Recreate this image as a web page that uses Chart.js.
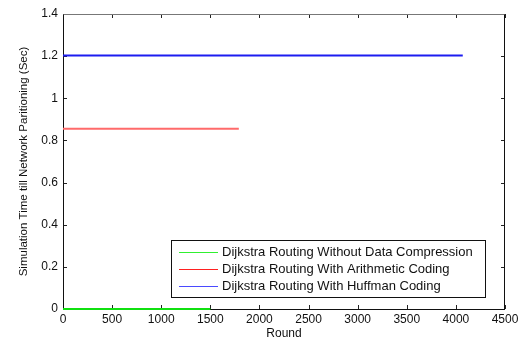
<!DOCTYPE html>
<html><head><meta charset="utf-8">
<script src="https://cdn.jsdelivr.net/npm/chart.js@4"></script>
<style>html,body{margin:0;padding:0;background:#fff;}#wrap{width:524px;height:341px;}</style>
</head><body><div id="wrap"><canvas id="c" width="524" height="341"></canvas></div>
<script>
const seriesLabels = ["Dijkstra Routing Without Data Compression","Dijkstra Routing With Arithmetic Coding","Dijkstra Routing With Huffman Coding"];
const seriesColors = ["#10e010","#ff6a6a","#1c1cf0"];
const legendColors = ["#30f030","#ff2020","#4a4aff"];
const noCompRounds = [0, 1500];
const noCompTime = [0, 0];
const arithRounds = [0, 1790];
const arithTime = [0.855, 0.855];
const huffRounds = [0, 4070];
const huffTime = [1.203, 1.203];
const xTicks = [0,500,1000,1500,2000,2500,3000,3500,4000,4500];
const yTicks = [0,0.2,0.4,0.6,0.8,1,1.2,1.4];
const xTitle = "Round";
const yTitle = "Simulation Time till Network Paritioning (Sec)";

const pts = (xs, ys) => xs.map((x, i) => ({x, y: ys[i]}));
const FONT = "'Liberation Sans', Arial, sans-serif";

const frame = {
  id: 'frame',
  beforeDatasetsDraw(chart) {
    const {ctx, chartArea: a, scales} = chart;
    ctx.save();
    ctx.lineWidth = 1;
    ctx.strokeStyle = '#222';
    const L = 4;
    scales.x.ticks.forEach(t => {
      const px = Math.round(scales.x.getPixelForValue(t.value)) + 0.5;
      ctx.beginPath();
      ctx.moveTo(px, a.bottom); ctx.lineTo(px, a.bottom - L);
      ctx.moveTo(px, a.top); ctx.lineTo(px, a.top + L);
      ctx.stroke();
    });
    scales.y.ticks.forEach(t => {
      const py = Math.round(scales.y.getPixelForValue(t.value)) + 0.5;
      ctx.beginPath();
      ctx.moveTo(a.left, py); ctx.lineTo(a.left + L, py);
      ctx.moveTo(a.right, py); ctx.lineTo(a.right - L, py);
      ctx.stroke();
    });
    const l = Math.round(a.left) + 0.5, r = Math.round(a.right) - 0.5;
    const t = Math.round(a.top) + 0.5, b = Math.round(a.bottom) + 0.5;
    ctx.strokeStyle = '#111';
    ctx.beginPath();
    ctx.moveTo(l, t); ctx.lineTo(l, b); ctx.lineTo(r, b); ctx.lineTo(r, t);
    ctx.stroke();
    ctx.strokeStyle = '#777';
    ctx.beginPath(); ctx.moveTo(l, t); ctx.lineTo(r, t); ctx.stroke();
    ctx.restore();
  },
  afterDatasetsDraw(chart) {
    const {ctx, chartArea: a} = chart;
    ctx.save();
    const bx1 = a.right - 20, bx0 = a.left + 108, by1 = a.bottom - 12, by0 = a.bottom - 69;
    ctx.fillStyle = '#fff';
    ctx.fillRect(bx0, by0, bx1 - bx0, by1 - by0);
    ctx.lineWidth = 1;
    ctx.strokeStyle = '#111';
    ctx.strokeRect(Math.round(bx0) + 0.5, Math.round(by0) + 0.5, Math.round(bx1 - bx0), Math.round(by1 - by0));
    ctx.font = '13px ' + FONT;
    ctx.textBaseline = 'middle';
    ctx.textAlign = 'left';
    chart.data.datasets.forEach((ds, i) => {
      const y = Math.round(by0 + 12 + i * 17) + 0.5;
      ctx.strokeStyle = legendColors[i];
      ctx.lineWidth = 1;
      ctx.beginPath(); ctx.moveTo(bx0 + 8, y); ctx.lineTo(bx0 + 47, y); ctx.stroke();
      ctx.fillStyle = '#111';
      ctx.fillText(ds.label, bx0 + 51, y);
    });
    ctx.restore();
  }
};

new Chart(document.getElementById('c'), {
  type: 'line',
  data: {
    datasets: [
      {label: seriesLabels[0], data: pts(noCompRounds, noCompTime), borderColor: seriesColors[0], borderWidth: 2},
      {label: seriesLabels[1], data: pts(arithRounds, arithTime), borderColor: seriesColors[1], borderWidth: 2},
      {label: seriesLabels[2], data: pts(huffRounds, huffTime), borderColor: seriesColors[2], borderWidth: 2}
    ]
  },
  options: {
    responsive: false,
    animation: false,
    events: [],
    clip: false,
    elements: {point: {radius: 0}, line: {tension: 0}},
    layout: {padding: {top: 14, right: 19, left: 0, bottom: 0}},
    plugins: {legend: {display: false}, tooltip: {enabled: false}},
    scales: {
      x: {
        type: 'linear', min: 0, max: 4500,
        afterBuildTicks: s => { s.ticks = xTicks.map(v => ({value: v})); },
        afterFit: s => { s.height = 32; },
        grid: {display: false, drawTicks: false},
        border: {display: false},
        ticks: {color: '#111', font: {family: FONT, size: 12}, padding: 3, maxRotation: 0, autoSkip: false,
                callback: v => String(v)},
        title: {display: true, text: xTitle, color: '#111', font: {family: FONT, size: 12}, padding: {top: 0, bottom: 0}}
      },
      y: {
        type: 'linear', min: 0, max: 1.4,
        afterBuildTicks: s => { s.ticks = yTicks.map(v => ({value: v})); },
        afterFit: s => { s.width = 63; },
        grid: {display: false, drawTicks: false},
        border: {display: false},
        ticks: {color: '#111', font: {family: FONT, size: 12}, padding: 5, autoSkip: false,
                callback: v => String(v)},
        title: {display: true, text: yTitle, color: '#111', font: {family: FONT, size: 11.5}, padding: {top: 17, bottom: 0}}
      }
    }
  },
  plugins: [frame]
});
</script>
</body></html>
